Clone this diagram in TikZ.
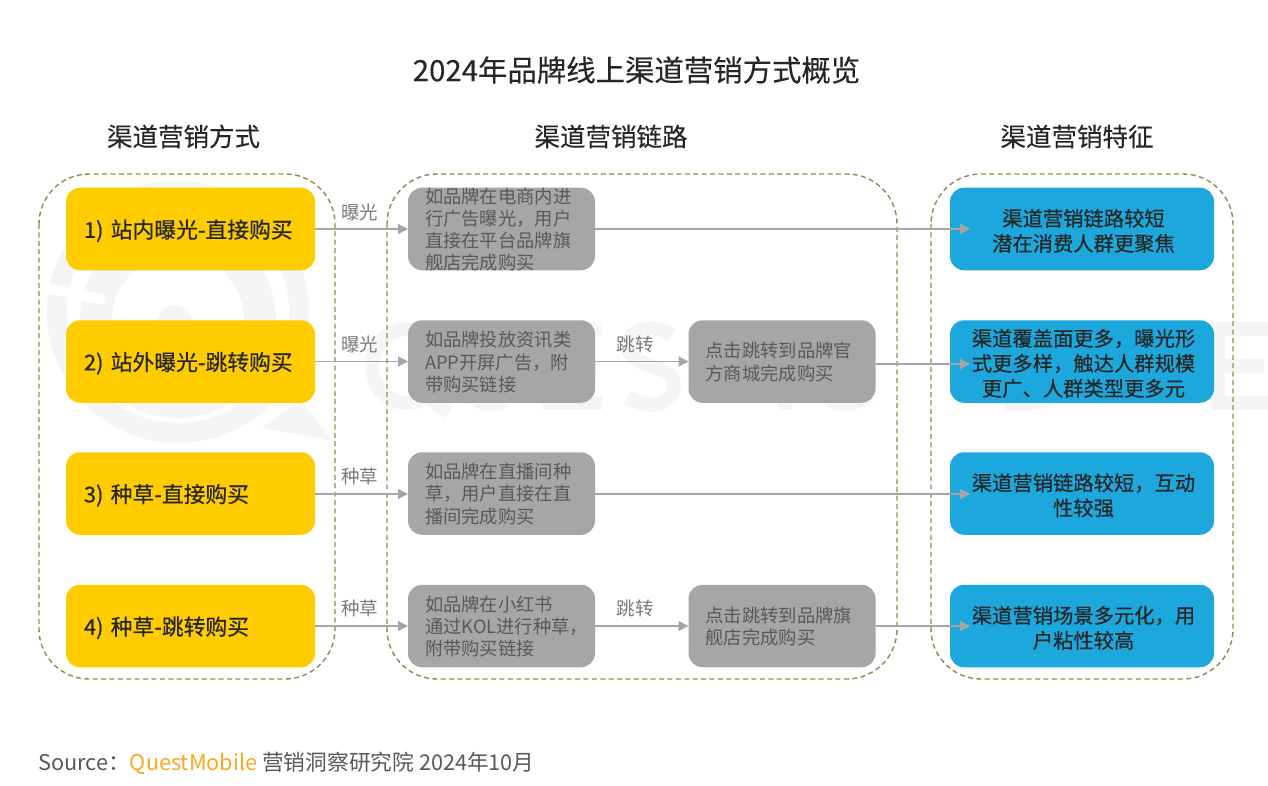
\documentclass[tikz,border=0pt]{standalone}
\usepackage{fontspec}
\setmainfont{Noto Sans CJK SC}
\newfontfamily\boldcjk[FakeBold=0.45]{Noto Sans CJK SC}
\newfontfamily\semicjk[FakeBold=0.15]{Noto Sans CJK SC}
\usetikzlibrary{arrows.meta}
\definecolor{ybox}{HTML}{FFCC00}
\definecolor{gbox}{HTML}{A6A6A6}
\definecolor{bbox}{HTML}{1CA8DD}
\definecolor{dashc}{HTML}{9C8552}
\definecolor{gtext}{HTML}{595959}
\definecolor{dtext}{HTML}{262626}
\definecolor{wm}{HTML}{F5F5F5}
\definecolor{qm}{HTML}{F9A825}
\tikzset{
  x=1pt,y=-1pt,
  rowbox/.style={rounded corners=14pt,inner sep=0pt,outer sep=0pt,anchor=center},
  ybx/.style={rowbox,fill=ybox,minimum width=249pt,minimum height=82.5pt,text=dtext,font=\boldcjk\fontsize{21.8}{26}\selectfont,align=left,text width=213pt,execute at begin node={\rule{0pt}{22pt}}},
  gbx/.style={rowbox,fill=gbox,minimum width=187pt,minimum height=82.5pt,text=gtext,font=\fontsize{18.3}{22.2}\selectfont,align=left,text width=153pt,execute at begin node={\rule{0pt}{16.5pt}}},
  gtx/.style={inner sep=0pt,outer sep=0pt,anchor=center,text=gtext,font=\fontsize{18.3}{22.2}\selectfont,align=left,text width=153pt},
  bbx/.style={rowbox,fill=bbox,minimum width=264pt,minimum height=82.5pt,text=dtext,font=\boldcjk\fontsize{20.3}{25}\selectfont,align=center,text width=240pt,execute at begin node={\advance\leftskip by 3pt\relax\rule{0pt}{21pt}}},
  panel/.style={draw=dashc,line width=1.4pt,dash pattern=on 5pt off 3.4pt,rounded corners=50pt,fill=none},
  conn/.style={draw=gbox,line width=1.2pt,-{Triangle[length=10pt,width=10pt]}},
  lbl/.style={text=gtext!80,font=\fontsize{18.5}{22}\selectfont,inner sep=0pt},
  head/.style={text=dtext,font=\semicjk\fontsize{25.5}{30}\selectfont,inner sep=0pt},
  wml/.style={draw=wm,line width=14pt,fill=none},
}
\begin{document}
\begin{tikzpicture}
\useasboundingbox (0,0) rectangle (1268,786);
\fill[white] (0,0) rectangle (1268,786);
% watermark logo
\draw[wm,line width=20pt] (178,312) circle (121);
\draw[wm,line width=32pt] (178,320) circle (82);
\fill[wm] (175,322) circle (17);
\fill[wm] (300,400) -- (333,441) -- (262,428) -- cycle;
\draw[white,line width=10pt] (35,286) -- (105,300);
% watermark lettering, drawn as shapes
\begin{scope}[shift={(372,329)}] % Q
\draw[wml] (35,37) ellipse [x radius=35,y radius=37];
\draw[wml] (45,58) -- (76,84);
\end{scope}
\begin{scope}[shift={(465,329)}] % U
\draw[wml] (0,0) -- (0,48) .. controls (0,84) and (52,84) .. (52,48) -- (52,0);
\end{scope}
\begin{scope}[shift={(550,329)}] % E
\draw[wml] (52,0) -- (0,0) -- (0,74) -- (52,74);
\draw[wml] (0,37) -- (46,37);
\end{scope}
\begin{scope}[shift={(628,329)}] % S
\draw[wml] (44,6) .. controls (20,-8) and (0,2) .. (0,18) .. controls (0,40) and (46,34) .. (46,56) .. controls (46,76) and (18,82) .. (0,68);
\end{scope}
\begin{scope}[shift={(695,329)}] % T
\draw[wml] (0,0) -- (60,0);
\draw[wml] (30,0) -- (30,74);
\end{scope}
\begin{scope}[shift={(785,329)}] % I
\draw[wml] (0,-7) -- (0,81);
\end{scope}
\begin{scope}[shift={(812,329)}] % C
\draw[wml] (58,8) .. controls (30,-12) and (0,4) .. (0,37) .. controls (0,70) and (30,86) .. (58,66);
\end{scope}
\begin{scope}[shift={(1012,329)}] % D
\draw[wml] (0,0) -- (0,74) -- (18,74) .. controls (68,74) and (68,0) .. (18,0) -- cycle;
\end{scope}
\begin{scope}[shift={(1218,329)}] % E
\draw[wml] (52,0) -- (0,0) -- (0,74) -- (52,74);
\draw[wml] (0,37) -- (46,37);
\end{scope}
% panels
\draw[panel] (39,174) rectangle (335,679);
\draw[panel] (387,174) rectangle (897,679);
\draw[panel] (931,174) rectangle (1233,679);
% headings
\node[text=dtext,font=\semicjk\fontsize{29.4}{34}\selectfont,inner sep=0pt] (title) at (636.5,70) {2024年品牌线上渠道营销方式概览};
\node[head] (h1) at (183.5,136.5) {渠道营销方式};
\node[head] (h2) at (611,136.5) {渠道营销链路};
\node[head] (h3) at (1077,136.5) {渠道营销特征};
% left
\node[ybx] (y1) at (190.5,229) {1) 站内曝光-直接购买};
\node[ybx] (y2) at (190.5,361.5) {2) 站外曝光-跳转购买};
\node[ybx] (y3) at (190.5,493.5) {3) 种草-直接购买};
\node[ybx] (y4) at (190.5,626) {4) 种草-跳转购买};
% middle
\node[gbx] (g1) at (501.5,229) {};
\node[gtx] (g1t) at (501.5,229.5) {如品牌在电商内进\\行广告曝光，用户\\直接在平台品牌旗\\舰店完成购买};
\node[gbx] (g2) at (501.5,361.5) {如品牌投放资讯类\\APP开屏广告，附\\带购买链接};
\node[gbx] (g3) at (501.5,493.5) {如品牌在直播间种\\草，用户直接在直\\播间完成购买};
\node[gbx] (g4) at (501.5,626) {如品牌在小红书\\通过KOL进行种草，\\附带购买链接};
\node[gbx] (t2) at (782,361.5) {点击跳转到品牌官\\方商城完成购买};
\node[gbx] (t4) at (782,626) {点击跳转到品牌旗\\舰店完成购买};
% right
\node[bbx] (b1) at (1082,229) {渠道营销链路较短\\潜在消费人群更聚焦};
\node[bbx] (b2) at (1082,361.5) {渠道覆盖面更多，曝光形\\式更多样，触达人群规模\\更广、人群类型更多元};
\node[bbx] (b3) at (1082,493.5) {渠道营销链路较短，互动\\性较强};
\node[bbx] (b4) at (1082,626) {渠道营销场景多元化，用\\户粘性较高};
% connectors
\draw[conn] (y1.east) -- (g1.west);
\draw[conn] (y2.east) -- (g2.west);
\draw[conn] ([yshift=-0.5pt]y3.east) -- ([yshift=-0.5pt]g3.west);
\draw[conn] (y4.east) -- (g4.west);
\draw[conn] (g2.east) -- (t2.west);
\draw[conn] (g4.east) -- (t4.west);
\draw[conn] (g1.east) -- ([xshift=20pt]b1.west);
\draw[conn] ([yshift=-2.5pt]t2.east) -- ([xshift=20pt,yshift=-2.5pt]b2.west);
\draw[conn] ([yshift=-0.5pt]g3.east) -- ([xshift=20pt,yshift=-0.5pt]b3.west);
\draw[conn] (t4.east) -- ([xshift=20pt]b4.west);
% labels
\node[lbl] (l1) at (359.5,212) {曝光};
\node[lbl] (l2) at (359.5,344) {曝光};
\node[lbl] (l3) at (359.5,476) {种草};
\node[lbl] (l4) at (359.5,608) {种草};
\node[lbl] (l5) at (635,344) {跳转};
\node[lbl] (l6) at (635,608) {跳转};
% source
\node[anchor=west,inner sep=0pt,text=gtext,font=\fontsize{21.7}{25}\selectfont] (src) at (38,763) {Source：\textcolor{qm}{QuestMobile} 营销洞察研究院 2024年10月};
\end{tikzpicture}
\end{document}
